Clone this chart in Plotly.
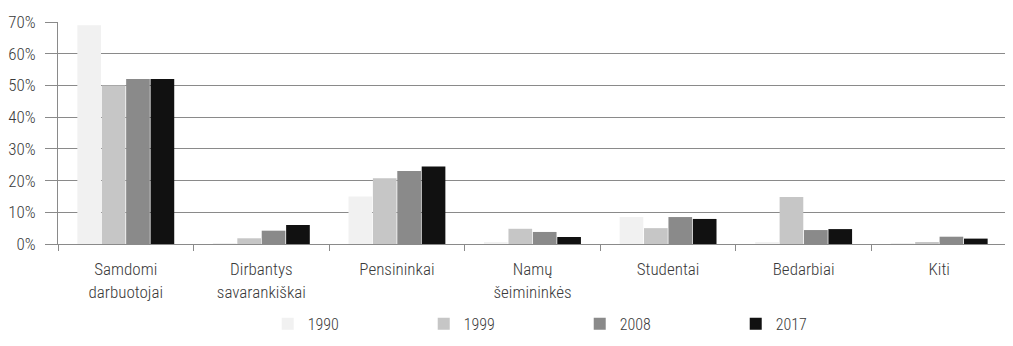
import plotly.graph_objects as go

categories = ["Samdomi<br>darbuotojai", "Dirbantys<br>savarankiškai", "Pensininkai",
              "Namų<br>šeimininkės", "Studentai", "Bedarbiai", "Kiti"]
years = ["1990", "1999", "2008", "2017"]
v1990 = [69, 0.3, 15, 0.5, 8.5, 0.5, 0.2]
v1999 = [50, 1.8, 20.7, 4.8, 5.0, 14.8, 0.4]
v2008 = [52, 4.2, 23, 3.8, 8.5, 4.4, 2.3]
v2017 = [52, 6.0, 24.4, 2.2, 7.9, 4.7, 1.7]
series = [v1990, v1999, v2008, v2017]
colors = ["#f1f1f1", "#c6c6c6", "#8a8a8a", "#111111"]

font_family = "Roboto Condensed, Liberation Sans Narrow, Roboto, sans-serif"
txt = dict(family=font_family, size=16, color="#3a3a3a", weight=300)
big = dict(family=font_family, size=17, color="#3a3a3a", weight=300)

fig = go.Figure()
for name, vals, col in zip(years, series, colors):
    fig.add_trace(go.Bar(
        x=categories, y=vals, name=name,
        marker=dict(color=col, line=dict(width=0)),
    ))

fig.update_layout(
    width=1013, height=346,
    margin=dict(l=50, r=14, t=14, b=110, autoexpand=False),
    barmode="group", bargap=0.28, bargroupgap=0.03,
    plot_bgcolor="white", paper_bgcolor="white",
    font=txt,
    showlegend=True,
    legend=dict(orientation="h", x=0.221, xanchor="left",
                yref="container", y=0.087, yanchor="middle",
                entrywidth=111, entrywidthmode="pixels",
                font=txt, traceorder="normal"),
)
fig.update_xaxes(
    showline=True, linecolor="#8a8a8a", linewidth=1,
    ticks="outside", tickson="boundaries", ticklen=6, tickcolor="#8a8a8a",
    tickfont=big, showgrid=False, ticklabelstandoff=10,
)
fig.update_yaxes(
    range=[0, 70], dtick=10, ticksuffix="%",
    showline=True, linecolor="#8a8a8a", linewidth=1,
    ticks="outside", ticklen=12, tickcolor="#8a8a8a",
    showgrid=True, gridcolor="#8a8a8a", gridwidth=1,
    tickfont=big, zeroline=False, ticklabelstandoff=6,
)

fig.write_html("out.html")
